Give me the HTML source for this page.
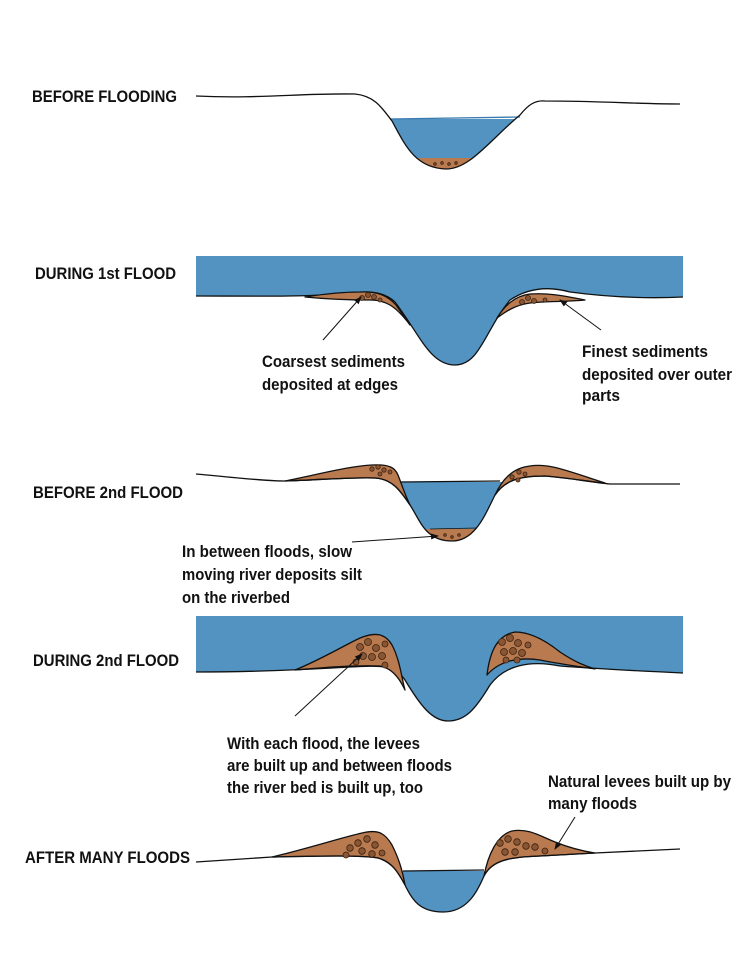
<!DOCTYPE html>
<html><head><meta charset="utf-8"><style>
html,body{margin:0;padding:0;background:#fff}
svg{display:block}
text{font-family:"Liberation Sans Narrow","Liberation Sans",sans-serif;font-weight:bold;font-size:16.5px;fill:#111}
</style></head><body>
<svg width="750" height="956" viewBox="0 0 750 956" xmlns="http://www.w3.org/2000/svg">
<defs>
<marker id="a" markerWidth="8" markerHeight="8" refX="7" refY="4" orient="auto" markerUnits="userSpaceOnUse"><path d="M0,1 L8,4 L0,7 Z" fill="#111"/></marker>
<clipPath id="c1"><path d="M196,96 C260,99 300,93 355,94 C375,96 382,108 392,121 C405,145 415,168 446,169 C470,169 490,140 520,115 C528,105 535,100 545,101 C600,101 640,104 680,104 L680,0 L196,0 Z"/></clipPath>
<clipPath id="c3"><path d="M196,474 C240,478 265,481 285,481 C320,480 350,477 375,478 C392,479 400,490 410,505 C420,520 425,541 452,541 C475,541 485,515 495,495 C505,480 520,476 545,476 C570,478 590,482 610,484 L680,484 L680,300 L196,300 Z"/></clipPath>
<clipPath id="c5"><path d="M196,862 L272,857 C320,856 360,855 378,858 C392,862 398,872 405,885 C412,900 420,912 443,912 C468,912 478,890 484,876 C492,860 510,857 540,856 L595,853 L680,849 L680,700 L196,700 Z"/></clipPath>
</defs>
<g stroke="#111" stroke-width="1.3" stroke-linejoin="round">
<!-- Panel 1 -->
<g clip-path="url(#c1)" stroke="none">
<rect x="370" y="119" width="170" height="60" fill="#5293c1"/>
<rect x="370" y="158" width="170" height="20" fill="#b97a4f"/>
</g>
<path d="M390,119 L520,117" fill="none" stroke="#3a7ab0"/>
<path d="M196,96 C260,99 300,93 355,94 C375,96 382,108 392,121 C405,145 415,168 446,169 C470,169 490,140 520,115 C528,105 535,100 545,101 C600,101 640,104 680,104" fill="none"/>
<!-- Panel 2 -->
<path d="M196,256 L683,256 L683,297 C640,299 600,296 570,292 C545,285 525,290 510,300 C485,330 480,365 455,365 C430,365 420,335 395,302 C380,288 360,292 340,294 C300,297 250,296 196,296 Z" fill="#5293c1" stroke="none"/>
<path d="M196,296 C250,296 300,297 340,294 C360,292 380,288 395,302 C420,335 430,365 455,365 C480,365 485,330 510,300 C525,290 545,285 570,292 C600,296 640,299 683,297" fill="none"/>
<path d="M305,297 C330,293 345,292 360,292 C378,291 388,296 396,305 L410,325 C395,305 385,300 370,300 C350,300 325,299 305,297 Z" fill="#b97a4f"/>
<path d="M497,318 C505,305 515,296 530,294 C548,293 560,295 585,300 C565,302 545,301 530,303 C515,305 505,312 497,318 Z" fill="#b97a4f"/>
<!-- Panel 3 -->
<g clip-path="url(#c3)" stroke="none">
<rect x="390" y="482" width="120" height="70" fill="#5293c1"/>
<rect x="390" y="529" width="120" height="20" fill="#b97a4f"/>
</g>
<path d="M400,482 L500,481" fill="none"/>
<path d="M430,529 L477,528" fill="none" stroke-width="0.8"/>
<path d="M285,481 C320,474 350,466 372,465 C390,464 395,468 398,475 C402,485 405,495 410,505 C400,490 392,479 375,478 C350,477 320,480 285,481 Z" fill="#b97a4f"/>
<path d="M495,495 C502,480 512,468 530,466 C548,463 565,470 605,483 C590,482 570,478 545,476 C520,476 505,480 495,495 Z" fill="#b97a4f"/>
<path d="M196,474 C240,478 265,481 285,481 C320,480 350,477 375,478 C392,479 400,490 410,505 C420,520 425,541 452,541 C475,541 485,515 495,495 C505,480 520,476 545,476 C570,478 590,482 610,484 L680,484" fill="none"/>
<!-- Panel 4 -->
<path d="M196,616 L683,616 L683,673 C640,671 600,669 560,666 C530,660 505,665 490,685 C475,710 465,721 448,721 C432,721 420,705 405,680 C395,665 380,665 350,667 C300,670 250,672 196,672 Z" fill="#5293c1" stroke="none"/>
<path d="M196,672 C250,672 300,670 350,667 C380,665 395,665 405,680 C420,705 432,721 448,721 C465,721 475,710 490,685 C505,665 530,660 560,666 C600,669 640,671 683,673" fill="none"/>
<path d="M295,670 C320,660 345,645 360,638 C375,632 385,633 392,645 C400,660 402,680 405,690 C398,675 390,668 380,666 C350,665 320,668 295,670 Z" fill="#b97a4f"/>
<path d="M487,675 C490,650 498,635 515,632 C530,632 545,640 560,652 C575,662 585,666 595,669 C575,666 560,664 540,660 C520,657 500,660 487,675 Z" fill="#b97a4f"/>
<!-- Panel 5 -->
<g clip-path="url(#c5)" stroke="none">
<rect x="390" y="871" width="110" height="50" fill="#5293c1"/>
</g>
<path d="M403,871 L484,870" fill="none"/>
<path d="M272,857 C310,848 340,838 362,833 C378,829 385,833 392,845 C398,857 402,868 405,885 C398,872 392,862 378,858 C360,855 320,856 272,857 Z" fill="#b97a4f"/>
<path d="M484,876 C488,855 497,835 512,831 C528,828 540,836 555,842 C570,848 582,851 595,853 L540,856 C510,857 492,860 484,876 Z" fill="#b97a4f"/>
<path d="M196,862 L272,857 C320,856 360,855 378,858 C392,862 398,872 405,885 C412,900 420,912 443,912 C468,912 478,890 484,876 C492,860 510,857 540,856 L595,853 L680,849" fill="none"/>
</g>
<!-- pebbles -->
<g fill="#8a5533" stroke="#3a2414" stroke-width="0.8">
<circle cx="435" cy="164" r="1.3"/><circle cx="442" cy="163" r="1.3"/><circle cx="449" cy="164" r="1.3"/><circle cx="456" cy="163" r="1.3"/>
<circle cx="362" cy="298" r="2.5"/><circle cx="368" cy="295" r="2.5"/><circle cx="374" cy="297" r="2.5"/><circle cx="380" cy="300" r="2"/>
<circle cx="522" cy="302" r="2.5"/><circle cx="528" cy="298" r="2.5"/><circle cx="534" cy="301" r="2.5"/><circle cx="545" cy="300" r="2"/>
<circle cx="372" cy="469" r="2.2"/><circle cx="378" cy="467" r="2.2"/><circle cx="384" cy="470" r="2.2"/><circle cx="380" cy="474" r="2"/><circle cx="390" cy="472" r="2"/>
<circle cx="512" cy="477" r="2.2"/><circle cx="519" cy="472" r="2.2"/><circle cx="525" cy="474" r="2"/><circle cx="518" cy="480" r="2"/>
<circle cx="445" cy="535" r="1.3"/><circle cx="452" cy="537" r="1.3"/><circle cx="459" cy="535" r="1.3"/>
<circle cx="360" cy="647" r="3.5"/><circle cx="368" cy="642" r="3.5"/><circle cx="376" cy="648" r="3.5"/><circle cx="363" cy="656" r="3.5"/><circle cx="372" cy="657" r="3.5"/><circle cx="382" cy="656" r="3.5"/><circle cx="385" cy="665" r="3"/><circle cx="356" cy="662" r="3"/><circle cx="385" cy="644" r="3"/>
<circle cx="502" cy="642" r="3.5"/><circle cx="510" cy="638" r="3.5"/><circle cx="518" cy="643" r="3.5"/><circle cx="504" cy="652" r="3.5"/><circle cx="513" cy="651" r="3.5"/><circle cx="522" cy="653" r="3.5"/><circle cx="506" cy="660" r="3"/><circle cx="517" cy="660" r="3"/><circle cx="528" cy="645" r="3"/>
<circle cx="350" cy="848" r="3.3"/><circle cx="358" cy="843" r="3.3"/><circle cx="367" cy="839" r="3.3"/><circle cx="375" cy="845" r="3.3"/><circle cx="362" cy="851" r="3.3"/><circle cx="372" cy="854" r="3.3"/><circle cx="382" cy="853" r="3"/><circle cx="346" cy="855" r="3"/>
<circle cx="500" cy="843" r="3.3"/><circle cx="508" cy="839" r="3.3"/><circle cx="517" cy="842" r="3.3"/><circle cx="526" cy="846" r="3.3"/><circle cx="535" cy="847" r="3.3"/><circle cx="505" cy="852" r="3.3"/><circle cx="515" cy="852" r="3.3"/><circle cx="545" cy="851" r="3"/>
</g>
<!-- arrows -->
<g stroke="#111" stroke-width="1" fill="none" marker-end="url(#a)">
<line x1="323" y1="340" x2="361" y2="297"/>
<line x1="601" y1="330" x2="560" y2="300"/>
<line x1="352" y1="542" x2="438" y2="536"/>
<line x1="295" y1="716" x2="362" y2="654"/>
<line x1="575" y1="817" x2="555" y2="849"/>
</g>
<!-- labels -->
<text x="32" y="102" textLength="145" lengthAdjust="spacingAndGlyphs">BEFORE FLOODING</text>
<text x="35" y="279" textLength="141" lengthAdjust="spacingAndGlyphs">DURING 1st FLOOD</text>
<text x="33" y="498" textLength="150" lengthAdjust="spacingAndGlyphs">BEFORE 2nd FLOOD</text>
<text x="33" y="666" textLength="146" lengthAdjust="spacingAndGlyphs">DURING 2nd FLOOD</text>
<text x="25" y="863" textLength="165" lengthAdjust="spacingAndGlyphs">AFTER MANY FLOODS</text>
<text x="262" y="367" textLength="143" lengthAdjust="spacingAndGlyphs">Coarsest sediments</text>
<text x="262" y="390" textLength="136" lengthAdjust="spacingAndGlyphs">deposited at edges</text>
<text x="582" y="357" textLength="126" lengthAdjust="spacingAndGlyphs">Finest sediments</text>
<text x="582" y="380" textLength="150" lengthAdjust="spacingAndGlyphs">deposited over outer</text>
<text x="582" y="401" textLength="38" lengthAdjust="spacingAndGlyphs">parts</text>
<text x="182" y="557" textLength="170" lengthAdjust="spacingAndGlyphs">In between floods, slow</text>
<text x="182" y="580" textLength="180" lengthAdjust="spacingAndGlyphs">moving river deposits silt</text>
<text x="182" y="603" textLength="108" lengthAdjust="spacingAndGlyphs">on the riverbed</text>
<text x="227" y="749" textLength="193" lengthAdjust="spacingAndGlyphs">With each flood, the levees</text>
<text x="227" y="771" textLength="225" lengthAdjust="spacingAndGlyphs">are built up and between floods</text>
<text x="227" y="793" textLength="196" lengthAdjust="spacingAndGlyphs">the river bed is built up, too</text>
<text x="548" y="787" textLength="183" lengthAdjust="spacingAndGlyphs">Natural levees built up by</text>
<text x="548" y="809" textLength="89" lengthAdjust="spacingAndGlyphs">many floods</text>
</svg>
</body></html>
